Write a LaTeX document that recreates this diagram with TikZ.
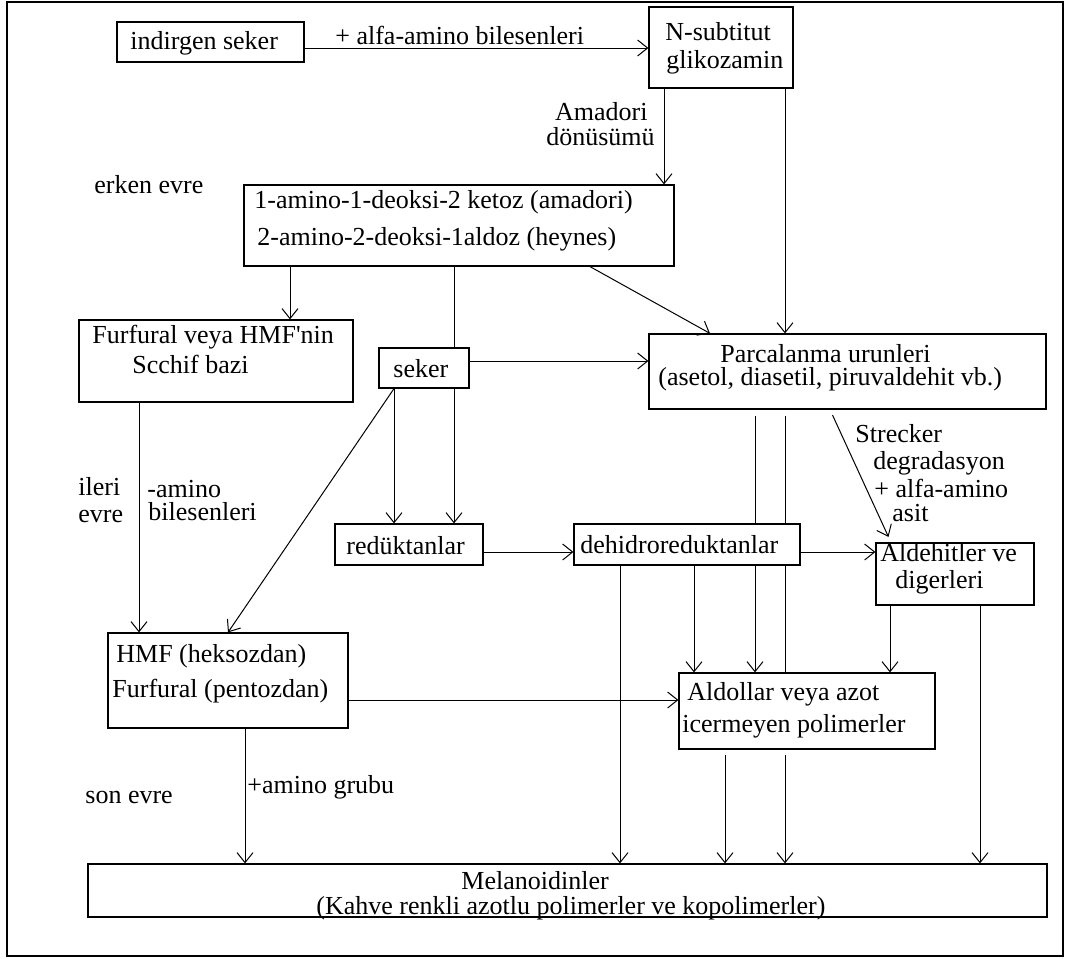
\documentclass[tikz,border=0pt]{standalone}
\usepackage{fontspec}
\setmainfont{Liberation Serif}
\usetikzlibrary{arrows.meta}

\tikzset{
  box/.style={draw, fill=white, line width=0.6pt, inner sep=0pt},
  txt/.style={inner sep=0pt, anchor=base west},
  ln/.style={line width=0.5pt},
  arr/.style={line width=0.5pt, -{Straight Barb[length=5pt, width=8pt]}},
}

% box from its corners: name, x1, y1, x2, y2 (pixel units)
\newcommand\mkbox[5]{%
  \node[box, minimum width={(#4-#2)*0.5pt}, minimum height={(#5-#3)*0.5pt}]
    (#1) at ({(#2+#4)/2},{(#3+#5)/2}) {};}

\begin{document}
\begin{tikzpicture}[x=0.5pt, y=-0.5pt, font=\fontsize{13}{10}\selectfont]

    \useasboundingbox (0,0) rectangle (1070,958);
    \draw[line width=1.2pt] (7,2) rectangle (1063,956);

    % 1. Boxes
    \mkbox{ind}{117}{22}{304}{62}
    \mkbox{nsub}{649}{7}{793}{88}
    \mkbox{amad}{244}{185}{674}{266}
    \mkbox{schiff}{79}{320}{353}{402}
    \mkbox{seker}{379}{348}{469}{388}
    \mkbox{parc}{649}{334}{1046}{409}
    \mkbox{reduk}{335}{524}{483}{565}
    \mkbox{dehid}{574}{524}{800}{565}
    \mkbox{aldeh}{876}{543}{1034}{605}
    \mkbox{hmf}{108}{633}{348}{728}
    \mkbox{aldol}{679}{673}{935}{749}
    \mkbox{mel}{88}{864}{1047}{917}

    % 2. Texts in the boxes
    \node[txt] (tInd) at (130,49) {indirgen seker};
    \node[txt] (tNsub1) at (665,40) {N-subtitut};
    \node[txt] (tNsub2) at (666,68) {glikozamin};
    \node[txt] (tAmad1) at (254,208) {1-amino-1-deoksi-2 ketoz (amadori)};
    \node[txt] (tAmad2) at (257,245) {2-amino-2-deoksi-1aldoz (heynes)};
    \node[txt] (tSch1) at (92,343) {Furfural veya HMF\textquotesingle nin};
    \node[txt] (tSch2) at (132,373) {Scchif bazi};
    \node[txt] (tSek) at (393,377) {seker};
    \node[txt] (tParc1) at (720,362) {Parcalanma urunleri};
    \node[txt] (tParc2) at (658,385) {(asetol, diasetil, piruvaldehit vb.)};
    \node[txt] (tRed) at (346,554) {redüktanlar};
    \node[txt] (tDeh) at (580,553) {dehidroreduktanlar};
    \node[txt] (tAldh1) at (880,561) {Aldehitler ve};
    \node[txt] (tAldh2) at (895,588) {digerleri};
    \node[txt] (tHmf1) at (116,662) {HMF (heksozdan)};
    \node[txt] (tHmf2) at (112,697) {Furfural (pentozdan)};
    \node[txt] (tAldo1) at (687,700) {Aldollar veya azot};
    \node[txt] (tAldo2) at (682,732) {icermeyen polimerler};
    \node[txt] (tMel1) at (461,889) {Melanoidinler};
    \node[txt] (tMel2) at (316,914) {(Kahve renkli azotlu polimerler ve kopolimerler)};

    % 3. Labels
    \node[txt, anchor=base east] (lAmad1) at (648,120) {Amadori};
    \node[txt, anchor=base east] (lAmad2) at (655,145) {dönüsümü};
    \node[txt] (lAlfa) at (335,44) {+ alfa-amino bilesenleri};
    \node[txt] (lErken) at (94,193) {erken evre};
    \node[txt] (lStr1) at (855,442) {Strecker};
    \node[txt] (lStr2) at (873,469) {degradasyon};
    \node[txt] (lStr3) at (874,497) {+ alfa-amino};
    \node[txt] (lStr4) at (892,521) {asit};
    \node[txt] (lIleri1) at (78,495) {ileri};
    \node[txt] (lIleri2) at (78,522) {evre};
    \node[txt] (lAmino1) at (147,497) {-amino};
    \node[txt] (lAmino2) at (148,520) {bilesenleri};
    \node[txt] (lGrubu) at (247,793) {+amino grubu};
    \node[txt] (lSon) at (85,803) {son evre};

    % 4. Connectors
    \draw[arr] (ind.east |- 0,48) -- (nsub.west |- 0,48);
    \draw[arr] (nsub.south -| 664,0) -- (amad.north -| 664,0);
    \draw[arr] (nsub.south -| 785,0) -- (parc.north -| 785,0);
    \draw[arr] (amad.south -| 290,0) -- (schiff.north -| 290,0);
    \draw[ln] (amad.south -| 454,0) -- (seker.north -| 454,0);
    \draw[arr] (amad.south -| 590,0) -- (parc.north -| 710,0);
    \draw[arr] (seker.east |- 0,361) -- (parc.west |- 0,361);
    \draw[arr] (seker.south -| 394,0) -- (reduk.north -| 394,0);
    \draw[arr] (seker.south -| 454,0) -- (reduk.north -| 454,0);
    \draw[arr] (seker.south -| 394,0) -- (hmf.north -| 228,0);
    \draw[arr] (schiff.south -| 139,0) -- (hmf.north -| 139,0);
    \draw[arr] (reduk.east |- 0,552) -- (dehid.west |- 0,552);
    \draw[arr] (dehid.east |- 0,552) -- (aldeh.west |- 0,552);
    \draw[arr, shorten <=3pt, shorten >=3pt] (parc.south -| 830,0) -- (aldeh.north -| 891,0);
    \draw[ln, shorten <=3pt] (parc.south -| 755,0) -- (dehid.north -| 755,0);
    \draw[ln, shorten <=3pt] (parc.south -| 785,0) -- (dehid.north -| 785,0);
    \draw[arr] (dehid.south -| 694,0) -- (aldol.north -| 694,0);
    \draw[arr] (dehid.south -| 755,0) -- (aldol.north -| 755,0);
    \draw[ln] (dehid.south -| 785,0) -- (aldol.north -| 785,0);
    \draw[arr] (dehid.south -| 620,0) -- (mel.north -| 620,0);
    \draw[arr] (aldeh.south -| 890,0) -- (aldol.north -| 890,0);
    \draw[arr] (aldeh.south -| 980,0) -- (mel.north -| 980,0);
    \draw[arr] (hmf.east |- 0,700) -- (aldol.west |- 0,700);
    \draw[arr] (hmf.south -| 245,0) -- (mel.north -| 245,0);
    \draw[arr, shorten <=2.5pt] (aldol.south -| 725,0) -- (mel.north -| 725,0);
    \draw[arr, shorten <=2.5pt] (aldol.south -| 785,0) -- (mel.north -| 785,0);
\end{tikzpicture}
\end{document}
